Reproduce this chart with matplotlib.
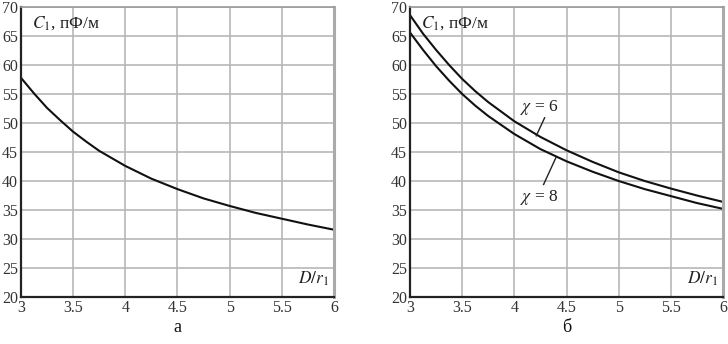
import numpy as np
import matplotlib
matplotlib.use("Agg")
import matplotlib.pyplot as plt

plt.rcParams['font.family'] = ['Liberation Serif', 'DejaVu Serif']
plt.rcParams['mathtext.fontset'] = 'stix'

# D/r1 values
x = [3.0, 3.125, 3.25, 3.375, 3.5, 3.625, 3.75, 4.0, 4.25, 4.5, 4.75, 5.0, 5.25, 5.5, 5.75, 6.0]
# panel a
c_a = [57.8, 55.1, 52.6, 50.5, 48.5, 46.8, 45.2, 42.6, 40.4, 38.6, 37.0, 35.7, 34.5, 33.5, 32.5, 31.6]
# panel b
c_chi6 = [68.6, 65.4, 62.6, 60.0, 57.6, 55.5, 53.6, 50.3, 47.6, 45.3, 43.3, 41.5, 40.0, 38.7, 37.5, 36.4]
c_chi8 = [65.6, 62.6, 59.8, 57.3, 55.0, 53.0, 51.2, 48.1, 45.5, 43.4, 41.6, 40.0, 38.6, 37.4, 36.2, 35.2]

xticks = [3, 3.5, 4, 4.5, 5, 5.5, 6]
xticklabels = ['3', '3.5', '4', '4.5', '5', '5.5', '6']
yticks = [20, 25, 30, 35, 40, 45, 50, 55, 60, 65, 70]

fig = plt.figure(figsize=(7.28, 3.44), dpi=100)
ax1 = fig.add_axes([0.0288, 0.1366, 0.43, 0.843])
ax2 = fig.add_axes([0.5632, 0.1366, 0.43, 0.843])

def style(ax, caption):
    ax.set_xlim(3, 6)
    ax.set_ylim(20, 70)
    ax.set_xticks(xticks)
    ax.set_xticklabels(xticklabels)
    ax.set_yticks(yticks)
    ax.tick_params(length=0, labelsize=11.5, colors='#333333', pad=2)
    ax.grid(True, color='#b8b8b8', lw=1.2)
    ax.set_axisbelow(True)
    for s in ['left', 'bottom']:
        ax.spines[s].set_color('#222222')
        ax.spines[s].set_linewidth(1.6)
    ax.spines['top'].set_color('#999999')
    ax.spines['top'].set_linewidth(1.2)
    ax.spines['right'].set_color('#aaaaaa')
    ax.spines['right'].set_linewidth(2.2)
    ax.text(0.035, 0.975, r'$C_1$, пФ/м', transform=ax.transAxes, fontsize=12.5,
            ha='left', va='top', color='#222222')
    ax.text(0.985, 0.03, r'$D/r_1$', transform=ax.transAxes, fontsize=12.5,
            ha='right', va='bottom', color='#222222')
    ax.text(0.5, -0.105, caption, transform=ax.transAxes, fontsize=13,
            ha='center', va='center', color='#111111')

ax1.plot(x, c_a, color='#111111', lw=1.5)
style(ax1, 'а')

ax2.plot(x, c_chi6, color='#111111', lw=1.5)
ax2.plot(x, c_chi8, color='#111111', lw=1.5)
style(ax2, 'б')
ax2.text(4.24, 52.6, r'$\chi$ = 6', fontsize=12.5, ha='center', va='center', color='#222222')
ax2.plot([4.29, 4.21], [50.9, 47.8], color='#222222', lw=1.0)
ax2.text(4.24, 37.2, r'$\chi$ = 8', fontsize=12.5, ha='center', va='center', color='#222222')
ax2.plot([4.40, 4.28], [44.1, 39.4], color='#222222', lw=1.0)

fig.savefig('out.png', dpi=100)
